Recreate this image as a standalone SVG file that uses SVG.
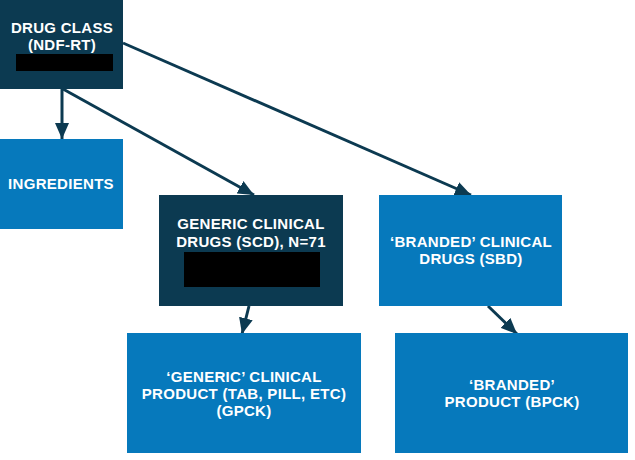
<svg xmlns="http://www.w3.org/2000/svg" width="635" height="460" viewBox="0 0 635 460">
<defs>
<style>
.dark{fill:#0c3a51}
.blue{fill:#0679bc}
.red{fill:#000}
.t{font-family:"Liberation Sans",Arial,sans-serif;font-weight:bold;font-size:15px;letter-spacing:0.3px;fill:#fff;text-anchor:middle}
.c{stroke:#0c3a51;stroke-width:3;fill:none;marker-end:url(#ah)}
</style>
<marker id="ah" markerUnits="userSpaceOnUse" markerWidth="16" markerHeight="14" viewBox="0 0 16 14" refX="16" refY="7" orient="auto">
<path d="M0,0 L16,7 L0,14 Z" fill="#0c3a51"/>
</marker>
</defs>
<rect width="635" height="460" fill="#fff"/>
<g id="connectors">
<line class="c" x1="62" y1="89" x2="62" y2="139"/>
<line class="c" x1="63" y1="89" x2="254" y2="195"/>
<line class="c" x1="123" y1="43" x2="471" y2="195"/>
<line class="c" x1="249" y1="306" x2="242" y2="334"/>
<line class="c" x1="488" y1="306" x2="517" y2="334"/>
</g>
<g id="drug-class">
<rect class="dark" x="0" y="0" width="123" height="89"/>
<text class="t" x="62" y="33">DRUG CLASS</text>
<text class="t" x="62" y="50">(NDF-RT)</text>
<rect class="red" x="16" y="54" width="97" height="17"/>
</g>
<g id="ingredients">
<rect class="blue" x="0" y="139" width="123" height="90"/>
<text class="t" x="61" y="189">INGREDIENTS</text>
</g>
<g id="scd">
<rect class="dark" x="159" y="195" width="184" height="111"/>
<text class="t" x="251" y="229">GENERIC CLINICAL</text>
<text class="t" x="251" y="247">DRUGS (SCD), N=71</text>
<rect class="red" x="184" y="252" width="136" height="35"/>
</g>
<g id="sbd">
<rect class="blue" x="379" y="195" width="183" height="111"/>
<text class="t" x="471" y="247">‘BRANDED’ CLINICAL</text>
<text class="t" x="471" y="264">DRUGS (SBD)</text>
</g>
<g id="gpck">
<rect class="blue" x="127" y="333" width="234" height="120"/>
<text class="t" x="244" y="382">‘GENERIC’ CLINICAL</text>
<text class="t" x="244" y="399">PRODUCT (TAB, PILL, ETC)</text>
<text class="t" x="244" y="416">(GPCK)</text>
</g>
<g id="bpck">
<rect class="blue" x="395" y="333" width="233" height="120"/>
<text class="t" x="512" y="390">‘BRANDED’</text>
<text class="t" x="512" y="407">PRODUCT (BPCK)</text>
</g>
</svg>
